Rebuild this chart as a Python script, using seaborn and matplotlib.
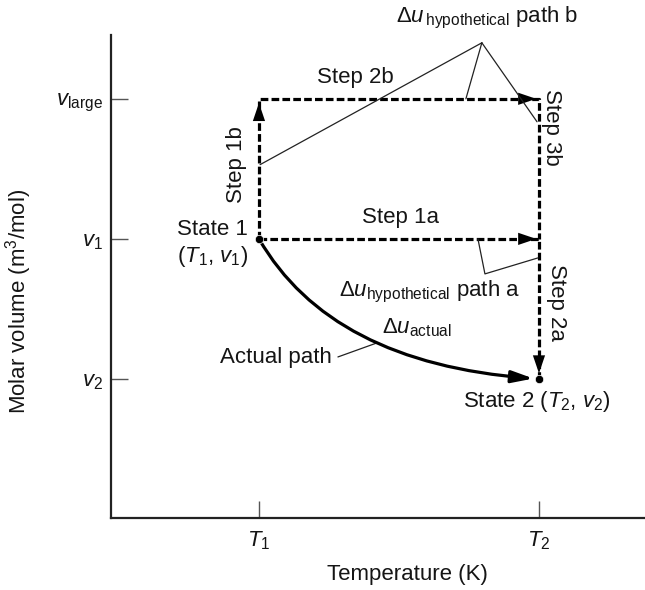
import numpy as np
import pandas as pd
import matplotlib
matplotlib.use("Agg")
import matplotlib.pyplot as plt
import seaborn as sns

# state values (arbitrary units: T1=1, T2=2 ; v2=1, v1=2, v_large=3)
temps = [1.0, 2.0]
temp_labels = [r"$T_1$", r"$T_2$"]
vols = [1.0, 2.0, 3.0]
vol_labels = [r"$v_2$", r"$v_1$", r"$v_{\mathrm{large}}$"]

T1, T2 = temps
v2, v1, vlarge = vols

# hypothetical path a: T1,v1 -> T2,v1 -> T2,v2
path_a_T = [T1, T2, T2]
path_a_v = [v1, v1, v2]
# hypothetical path b: T1,v1 -> T1,vlarge -> T2,vlarge -> T2,v1
path_b_T = [T1, T1, T2, T2]
path_b_v = [v1, vlarge, vlarge, v1]

states_T = [T1, T2]
states_v = [v1, v2]

sns.set_style("ticks")
plt.rcParams["font.family"] = ["Liberation Sans", "DejaVu Sans"]
plt.rcParams["mathtext.fontset"] = "custom"
plt.rcParams["mathtext.rm"] = "Liberation Sans"
plt.rcParams["mathtext.it"] = "Liberation Sans:italic"
plt.rcParams["mathtext.bf"] = "Liberation Sans:bold"
plt.rcParams["text.color"] = "#151515"
plt.rcParams["axes.labelcolor"] = "#151515"
plt.rcParams["xtick.labelcolor"] = "#151515"
plt.rcParams["ytick.labelcolor"] = "#151515"

FS = 16
fig = plt.figure(figsize=(6.45, 5.9), dpi=100)
ax = fig.add_axes([0.172, 0.122, 0.828, 0.819])

dash = (0, (2.4, 1.0))
df_a = pd.DataFrame({"T": path_a_T, "v": path_a_v})
df_b = pd.DataFrame({"T": path_b_T, "v": path_b_v})
for df in [df_b, df_a]:
    sns.lineplot(data=df, x="T", y="v", sort=False, estimator=None,
                 errorbar=None, color="black", lw=2.3, linestyle=dash, ax=ax)
sns.scatterplot(x=states_T, y=states_v, color="black", s=36, zorder=5, ax=ax)

head = "-|>,head_length=0.65,head_width=0.22"


def arrow_head(tip, tail, shrink):
    ax.annotate("", xy=tip, xytext=tail,
                arrowprops=dict(arrowstyle=head, mutation_scale=20, lw=0,
                                color="black", shrinkA=0, shrinkB=shrink))


arrow_head((T1, vlarge), (T1, vlarge - 0.2), 3)      # step 1b
arrow_head((T2, vlarge), (T2 - 0.1, vlarge), 2)      # step 2b
arrow_head((T2, v1), (T2 - 0.1, v1), 2)              # step 1a
arrow_head((T2, v2), (T2, v2 + 0.2), 4)              # step 2a

# actual path (curved)
ax.annotate("", xy=(T2, v2), xytext=(T1, v1),
            arrowprops=dict(arrowstyle="-|>,head_length=0.65,head_width=0.18",
                            mutation_scale=20, lw=2.3, color="black",
                            shrinkA=0, shrinkB=4,
                            connectionstyle="angle3,angleA=-60,angleB=-4"))

# leader lines
thin = dict(arrowstyle="-", lw=0.9, color="#222222", shrinkA=0, shrinkB=0)
apex = (1.796, 3.40)
for end in [(1.004, 2.53), (1.739, vlarge), (1.993, 2.836)]:
    ax.annotate("", xy=end, xytext=apex, arrowprops=thin, annotation_clip=False)
ax.plot([1.782, 1.807, 1.996], [v1, 1.75, 1.864], color="#222222", lw=0.9)
ax.plot([1.282, 1.421], [1.157, 1.257], color="#222222", lw=0.9)

# texts
ax.text(1.814, 3.58, r"$\Delta u_{\,\mathrm{hypothetical}}$ path b", ha="center",
        va="center", fontsize=FS, clip_on=False)
ax.text(1.343, 3.15, "Step 2b", ha="center", va="center", fontsize=FS)
ax.text(0.921, 2.53, "Step 1b", ha="center", va="center", rotation=90, fontsize=FS)
ax.text(2.046, 2.793, "Step 3b", ha="center", va="center", rotation=270, fontsize=FS)
ax.text(0.707, 2.064, "State 1", ha="left", va="center", fontsize=FS)
ax.text(0.707, 1.871, r"($T_1$, $v_1$)", ha="left", va="center", fontsize=FS)
ax.text(1.504, 2.15, "Step 1a", ha="center", va="center", fontsize=FS)
ax.text(1.611, 1.621, r"$\Delta u_{\mathrm{hypothetical}}$ path a", ha="center",
        va="center", fontsize=FS)
ax.text(2.061, 1.543, "Step 2a", ha="center", va="center", rotation=270, fontsize=FS)
ax.text(1.564, 1.364, r"$\Delta u_{\mathrm{actual}}$", ha="center", va="center",
        fontsize=FS)
ax.text(1.261, 1.15, "Actual path", ha="right", va="center", fontsize=FS)
ax.text(1.993, 0.836, r"State 2 ($T_2$, $v_2$)", ha="center", va="center",
        fontsize=FS)

ax.set_xlim(0.4714, 2.3786)
ax.set_ylim(0.007, 3.457)
ax.set_xticks(temps)
ax.set_xticklabels(temp_labels, fontsize=FS)
ax.set_yticks(vols)
ax.set_yticklabels(vol_labels, fontsize=FS)
ax.tick_params(axis="both", direction="in", length=12, width=1.0, color="#555555")
ax.tick_params(axis="x", pad=8)
ax.tick_params(axis="y", pad=6)
sns.despine(ax=ax)
for s in ["left", "bottom"]:
    ax.spines[s].set_linewidth(1.6)
    ax.spines[s].set_color("#222222")

ax.set_xlabel("Temperature (K)", fontsize=FS)
ax.set_ylabel(r"Molar volume (m$^3$/mol)", fontsize=FS)
ax.xaxis.set_label_coords(0.555, -0.095)
ax.yaxis.set_label_coords(-0.145, 0.449)

fig.savefig("out.png", dpi=100)
